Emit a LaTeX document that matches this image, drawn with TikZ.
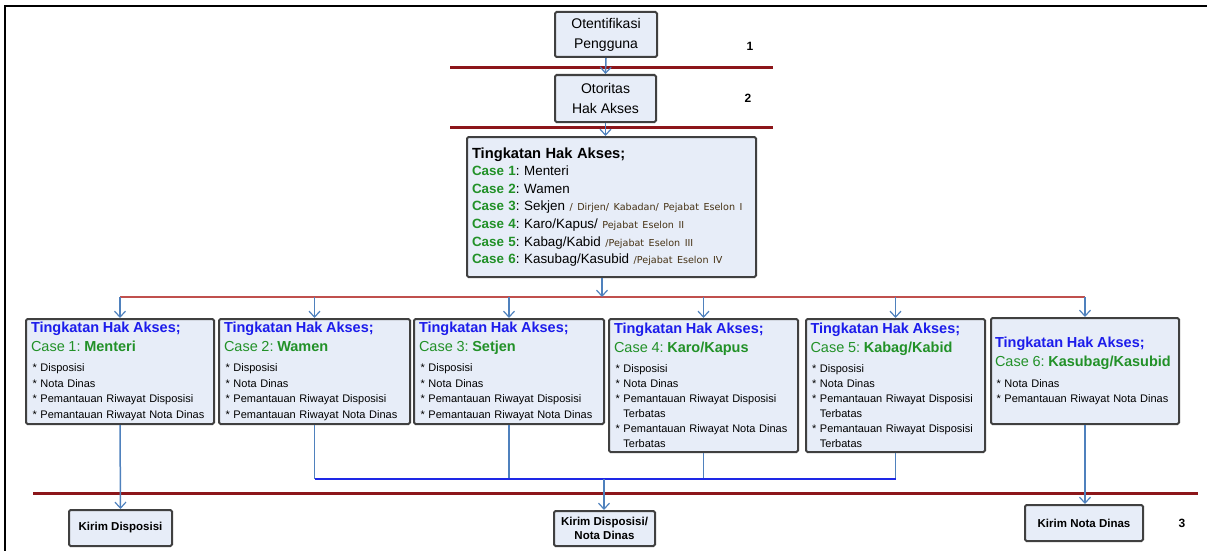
\documentclass[tikz,border=0pt]{standalone}
\usepackage{fontspec}
\setmainfont{Liberation Sans}
\newfontfamily\lesserfont{DejaVu Sans}
\usetikzlibrary{arrows.meta,calc}

\definecolor{boxfill}{RGB}{231,237,248}
\definecolor{boxline}{RGB}{64,64,64}
\definecolor{linkblue}{RGB}{79,129,189}
\definecolor{mergeblue}{RGB}{30,40,230}
\definecolor{bandred}{RGB}{140,22,26}
\definecolor{splitred}{RGB}{192,80,77}
\definecolor{titleblue}{RGB}{28,28,235}
\definecolor{casegreen}{RGB}{34,145,40}
\definecolor{rankbrown}{RGB}{70,50,20}

% text pieces of the access-level boxes
\newcommand{\lvltitle}{{\fontsize{14.5}{15.5}\selectfont\bfseries\color{titleblue}Tingkatan Hak Akses;}}
\newcommand{\lvlcase}[2]{{\fontsize{14.5}{15.5}\selectfont\color{casegreen}Case #1: \textbf{#2}}}
\newcommand{\lvlitem}[1]{\hspace*{1.5pt}* #1}
\newcommand{\lvlmore}[1]{\hspace*{1.5pt}\phantom{* }#1}
\newcommand{\bigcase}[1]{\textbf{\color{casegreen}Case #1}}
\newcommand{\rank}[1]{{\lesserfont\fontsize{9.6}{17.6}\selectfont\color{rankbrown}#1}}

\tikzset{
  flowbox/.style={draw=boxline, line width=2pt, fill=boxfill,
    rounded corners=1.5pt, inner xsep=5pt, inner ysep=0pt},
  topbox/.style={flowbox, align=center, font=\fontsize{14}{20}\selectfont},
  lvlbox/.style={flowbox, align=left, font=\fontsize{11}{15.5}\selectfont},
  endbox/.style={flowbox, align=center, font=\fontsize{11.5}{14}\selectfont\bfseries},
  stagenum/.style={font=\fontsize{12}{14}\selectfont\bfseries},
  link/.style={draw=linkblue, line width=1.5pt,
    -{Straight Barb[length=6pt,width=11pt,line width=1.2pt]}},
  feed/.style={draw=linkblue, line width=1.5pt},
  mergeline/.style={draw=mergeblue, line width=1.5pt},
  bandline/.style={draw=bandred, line width=3pt},
  splitline/.style={draw=splitred, line width=2pt},
}

\begin{document}
\frenchspacing
\begin{tikzpicture}[x=1pt,y=-1pt]
\useasboundingbox (0,0) rectangle (1207,551);

% page frame
\draw[line width=2pt] (4.5,551) -- (4.5,6.5) -- (1207,6.5);

% stage separators
\draw[bandline] (450,68) -- (773,68);
\draw[bandline] (450,127) -- (773,127);
\draw[bandline] (33,493) -- (1198,493);

% stages 1 and 2
\node[topbox, minimum width=102pt, minimum height=45pt] (auth) at (606,34.5)
  {Otentifikasi\\Pengguna};
\node[topbox, minimum width=101pt, minimum height=47pt] (role) at (605.5,98.5)
  {Otoritas\\Hak Akses};
\node[stagenum] (lab1) at (750,46) {1};
\node[stagenum] (lab2) at (748,98) {2};

% overview of access levels
\node[flowbox, align=left, font=\fontsize{13.4}{17.6}\selectfont,
      minimum width=287pt, minimum height=140pt, inner xsep=5pt, text width=279pt]
  (levels) at (611.5,207)
  {{\fontsize{14.7}{17.6}\selectfont\bfseries Tingkatan Hak Akses;}\\
   \bigcase{1}: Menteri\\
   \bigcase{2}: Wamen\\
   \bigcase{3}: Sekjen \rank{/ Dirjen/ Kabadan/ Pejabat Eselon I}\\
   \bigcase{4}: Karo/Kapus/ \rank{Pejabat Eselon II}\\
   \bigcase{5}: Kabag/Kabid \rank{/Pejabat Eselon III}\\
   \bigcase{6}: Kasubag/Kasubid \rank{/Pejabat Eselon IV}};

\draw[link] (auth.south) -- (role.north);
\draw[link] (role.south) -- (role.south |- levels.north);

% per-level boxes
\node[lvlbox, minimum width=188pt, minimum height=105pt, text width=178pt] (b1) at (120,371.5)
  {\lvltitle\\[3.5pt]
   \lvlcase{1}{Menteri}\\[4.5pt]
   \lvlitem{Disposisi}\\
   \lvlitem{Nota Dinas}\\
   \lvlitem{Pemantauan Riwayat Disposisi}\\
   \lvlitem{Pemantauan Riwayat Nota Dinas}};
\node[lvlbox, minimum width=191pt, minimum height=105pt, text width=181pt] (b2) at (314.5,371.5)
  {\lvltitle\\[3.5pt]
   \lvlcase{2}{Wamen}\\[4.5pt]
   \lvlitem{Disposisi}\\
   \lvlitem{Nota Dinas}\\
   \lvlitem{Pemantauan Riwayat Disposisi}\\
   \lvlitem{Pemantauan Riwayat Nota Dinas}};
\node[lvlbox, minimum width=190pt, minimum height=105pt, text width=180pt] (b3) at (509,371.5)
  {\lvltitle\\[3.5pt]
   \lvlcase{3}{Setjen}\\[4.5pt]
   \lvlitem{Disposisi}\\
   \lvlitem{Nota Dinas}\\
   \lvlitem{Pemantauan Riwayat Disposisi}\\
   \lvlitem{Pemantauan Riwayat Nota Dinas}};
\node[lvlbox, font=\fontsize{11}{15}\selectfont, minimum width=189pt, minimum height=133pt,
      text width=179pt] (b4) at (703.5,385.5)
  {\lvltitle\\[4pt]
   \lvlcase{4}{Karo/Kapus}\\[5pt]
   \lvlitem{Disposisi}\\
   \lvlitem{Nota Dinas}\\
   \lvlitem{Pemantauan Riwayat Disposisi}\\
   \lvlmore{Terbatas}\\
   \lvlitem{Pemantauan Riwayat Nota Dinas}\\
   \lvlmore{Terbatas}};
\node[lvlbox, font=\fontsize{11}{15}\selectfont, minimum width=179pt, minimum height=133pt,
      text width=170pt, inner xsep=4.5pt] (b5) at (895.5,385.5)
  {\lvltitle\\[4pt]
   \lvlcase{5}{Kabag/Kabid}\\[5pt]
   \lvlitem{Disposisi}\\
   \lvlitem{Nota Dinas}\\
   \lvlitem{Pemantauan Riwayat Disposisi}\\
   \lvlmore{Terbatas}\\
   \lvlitem{Pemantauan Riwayat Disposisi}\\
   \lvlmore{Terbatas}};
\node[lvlbox, minimum width=188pt, minimum height=106pt, text width=180pt, inner xsep=4pt] (b6) at (1085,371)
  {\lvltitle\\[3.5pt]
   \lvlcase{6}{Kasubag/Kasubid}\\[5.5pt]
   \lvlitem{Nota Dinas}\\
   \lvlitem{Pemantauan Riwayat Nota Dinas}};

% split from the overview to every level
\coordinate (hub) at (602,297);
\draw[splitline] (b1.north |- hub) -- (b6.north |- hub);
\draw[link] (levels.south -| hub) -- (hub);
\foreach \b in {b1,b2,b3,b4,b5,b6}
  \draw[link] (\b.north |- hub) -- (\b.north);

% stage 3: sending
\node[endbox, minimum width=103pt, minimum height=36pt] (k1) at (120.5,528) {Kirim Disposisi};
\node[endbox, minimum width=101pt, minimum height=35pt] (k2) at (604.5,528.5) {Kirim Disposisi/\\Nota Dinas};
\node[endbox, minimum width=118pt, minimum height=36pt] (k3) at (1084,523) {Kirim Nota Dinas};
\node[stagenum] (lab3) at (1182,523) {3};

\draw[link] (b1.south) -- (k1.north);
\draw[link] (b6.south) -- (b6.south |- k3.north);

\coordinate (mj) at (604,479);
\foreach \b in {b2,b3,b4,b5}
  \draw[feed] (\b.south) -- (\b.south |- mj);
\draw[mergeline] (b2.south |- mj) -- (b5.south |- mj);
\draw[link] (mj) -- (mj |- k2.north);
\end{tikzpicture}
\end{document}
